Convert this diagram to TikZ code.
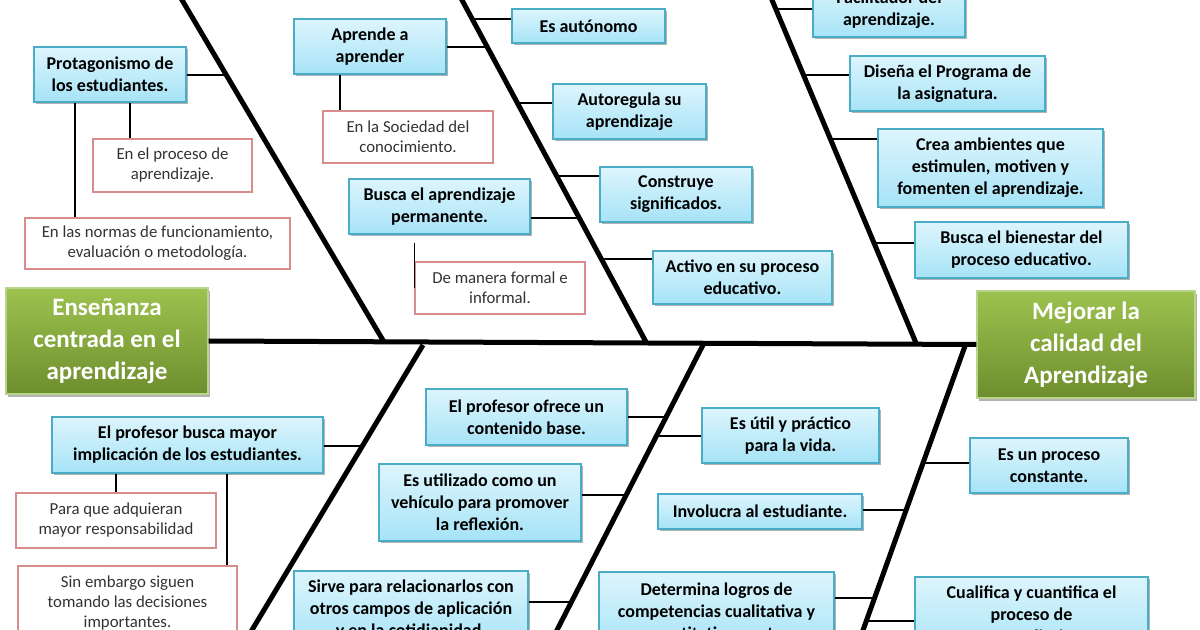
\documentclass[tikz,border=0pt]{standalone}
\usepackage{fontspec}
\setmainfont{Carlito}
\usetikzlibrary{shadows}
\definecolor{blueTop}{HTML}{DDF5FD}
\definecolor{blueBot}{HTML}{A6E3F7}
\definecolor{blueLine}{HTML}{4BACC6}
\definecolor{greenTop}{HTML}{9DC24F}
\definecolor{greenBot}{HTML}{6E8E2E}
\definecolor{greenLine}{HTML}{B8D38A}
\definecolor{redLine}{HTML}{D98C8C}
\definecolor{grayText}{HTML}{333333}
\begin{document}
\begin{tikzpicture}[x=0.5pt,y=-0.5pt,
  bx/.style 2 args={minimum width=#1*0.5pt, minimum height=#2*0.5pt, inner sep=0pt, align=center},
  cause/.style 2 args={bx={#1}{#2}, draw=blueLine, line width=0.8pt, top color=blueTop, bottom color=blueBot,
    drop shadow={shadow xshift=1pt, shadow yshift=-1.2pt, opacity=0.3, fill=black},
    font=\bfseries\fontsize{9}{11}\selectfont, text=black},
  note/.style 2 args={bx={#1}{#2}, draw=redLine, line width=0.6pt, fill=white,
    font=\fontsize{8.4}{10}\selectfont, text=grayText},
  head/.style 2 args={bx={#1}{#2}, draw=greenLine, line width=0.6pt, top color=greenTop, bottom color=greenBot,
    drop shadow={shadow xshift=1.2pt, shadow yshift=-1.5pt, opacity=0.3, fill=black},
    font=\bfseries\fontsize{12.5}{16}\selectfont, text=white},
  bone/.style={line width=2.5pt},
  twig/.style={line width=0.75pt}]
\useasboundingbox (0,0) rectangle (1200,630);
\clip (0,0) rectangle (1200,630);
\fill[white] (0,0) rectangle (1200,630);

% heads
\node[head={202}{106}] (leftg) at (107,341) {Enseñanza\\centrada en el\\aprendizaje};
\node[head={218}{107}] (rightg) at (1086,344.5) {Mejorar la\\calidad del\\Aprendizaje};

% upper causes
\node[cause={152}{55}] (prot) at (110,74.5) {Protagonismo de\\los estudiantes.};
\node[note={159}{53}] (proc) at (172.5,165.5) {En el proceso de\\aprendizaje.};
\node[note={265}{51}] (normas) at (157.5,243.5) {En las normas de funcionamiento,\\evaluación o metodología.};
\node[cause={152}{55}] (aprende) at (370,46.5) {Aprende a\\aprender};
\node[note={170}{52}] (socied) at (408,137) {En la Sociedad del\\conocimiento.};
\node[cause={181}{55}] (buscap) at (439.5,206.5) {Busca el aprendizaje\\permanente.};
\node[note={170}{52}] (formal) at (500,288) {De manera formal e\\informal.};
\node[cause={153}{34}] (auton) at (588.5,26) {Es autónomo};
\node[cause={153}{55}] (autoreg) at (629.5,111.5) {Autoregula su\\aprendizaje};
\node[cause={152}{55}] (constr) at (676,194.5) {Construye\\significados.};
\node[cause={179}{53}] (activo) at (742.5,277.5) {Activo en su proceso\\educativo.};
\node[cause={152}{55}] (facil) at (889,9.5) {Facilitador del\\aprendizaje.};
\node[cause={195}{55}] (disena) at (947.5,83.5) {Diseña el Programa de\\la asignatura.};
\node[cause={225}{78}] (crea) at (990.5,168) {Crea ambientes que\\estimulen, motiven y\\fomenten el aprendizaje.};
\node[cause={213}{56}] (bienestar) at (1021.5,250) {Busca el bienestar del\\proceso educativo.};

% lower causes
\node[cause={271}{56}] (profbusca) at (187.5,445) {El profesor busca mayor\\implicación de los estudiantes.};
\node[note={200}{55}] (paraque) at (116,520.5) {Para que adquieran\\mayor responsabilidad};
\node[note={219}{74}] (sinemb) at (127.5,603) {Sin embargo siguen\\tomando las decisiones\\importantes.};
\node[cause={201}{56}] (ofrece) at (526.5,417) {El profesor ofrece un\\contenido base.};
\node[cause={202}{77}] (utiliz) at (480,502.5) {Es utilizado como un\\vehículo para promover\\la reflexión.};
\node[cause={234}{78}] (sirve) at (411,610) {Sirve para relacionarlos con\\otros campos de aplicación\\y en la cotidianidad.};
\node[cause={177}{55}] (util) at (790.5,435.5) {Es útil y práctico\\para la vida.};
\node[cause={204}{35}] (involucra) at (760,511.5) {Involucra al estudiante.};
\node[cause={235}{78}] (determina) at (716.5,611) {Determina logros de\\competencias cualitativa y\\cuantitativamente.};
\node[cause={158}{55}] (esun) at (1049,465.5) {Es un proceso\\constante.};
\node[cause={233}{78}] (cualif) at (1031.5,616) {Cualifica y cuantifica el\\proceso de\\aprendizaje.};

% skeleton
\coordinate (b1a) at (170.2,-20); \coordinate (b1b) at (384,342);
\coordinate (b2a) at (451.2,-20); \coordinate (b2b) at (646,342);
\coordinate (b3a) at (763.6,-20); \coordinate (b3b) at (916,343);
\coordinate (b4a) at (423,345);   \coordinate (b4b) at (240,650);
\coordinate (b5a) at (703,345);   \coordinate (b5b) at (546.8,650);
\coordinate (b6a) at (965,346);   \coordinate (b6b) at (855.9,650);
\draw[bone] (leftg.east) -- (rightg.west);
\draw[bone] (b1a) -- (b1b);
\draw[bone] (b2a) -- (b2b);
\draw[bone] (b3a) -- (b3b);
\draw[bone] (b4a) -- (b4b);
\draw[bone] (b5a) -- (b5b);
\draw[bone] (b6a) -- (b6b);

% points on bones
\coordinate (tprot) at (226,75);
\coordinate (taprende) at (487,47);
\coordinate (tbuscap) at (579,218);
\coordinate (tauton) at (472,19);
\coordinate (tautoreg) at (517.4,103);
\coordinate (tconstr) at (556.7,176);
\coordinate (tactivo) at (601.3,259);
\coordinate (tfacil) at (775.8,9);
\coordinate (tdisena) at (803.5,75);
\coordinate (tcrea) at (830.4,139);
\coordinate (tbien) at (874,243);
\coordinate (tprofb) at (362.4,446);
\coordinate (tofrece) at (666,417);
\coordinate (tutiliz) at (626,495);
\coordinate (tsirve) at (571.4,602);
\coordinate (tutil) at (656.4,436);
\coordinate (tinvol) at (906,510);
\coordinate (tdeterm) at (874.5,598);
\coordinate (tesun) at (923,463);
\coordinate (tcualif) at (866.3,621);

% twigs to bones
\draw[twig] (prot.east |- tprot) -- (tprot);
\draw[twig] (aprende.east |- taprende) -- (taprende);
\draw[twig] (buscap.east |- tbuscap) -- (tbuscap);
\draw[twig] (auton.west |- tauton) -- (tauton);
\draw[twig] (autoreg.west |- tautoreg) -- (tautoreg);
\draw[twig] (constr.west |- tconstr) -- (tconstr);
\draw[twig] (activo.west |- tactivo) -- (tactivo);
\draw[twig] (facil.west |- tfacil) -- (tfacil);
\draw[twig] (disena.west |- tdisena) -- (tdisena);
\draw[twig] (crea.west |- tcrea) -- (tcrea);
\draw[twig] (bienestar.west |- tbien) -- (tbien);
\draw[twig] (profbusca.east |- tprofb) -- (tprofb);
\draw[twig] (ofrece.east |- tofrece) -- (tofrece);
\draw[twig] (utiliz.east |- tutiliz) -- (tutiliz);
\draw[twig] (sirve.east |- tsirve) -- (tsirve);
\draw[twig] (util.west |- tutil) -- (tutil);
\draw[twig] (involucra.east |- tinvol) -- (tinvol);
\draw[twig] (determina.east |- tdeterm) -- (tdeterm);
\draw[twig] (esun.west |- tesun) -- (tesun);
\draw[twig] (cualif.west |- tcualif) -- (tcualif);

% sub-cause links
\draw[twig] (130,0 |- prot.south) -- (130,0 |- proc.north);
\draw[twig] (75,0 |- prot.south) -- (75,0 |- normas.north);
\draw[twig] (340,0 |- aprende.south) -- (340,0 |- socied.north);
\draw[twig] (buscap.south -| formal.west) ++(0,8) -- (formal.west);
\draw[twig] (116,0 |- profbusca.south) -- (116,0 |- paraque.north);
\draw[twig] (227,0 |- profbusca.south) -- (227,0 |- sinemb.north);
\end{tikzpicture}
\end{document}
